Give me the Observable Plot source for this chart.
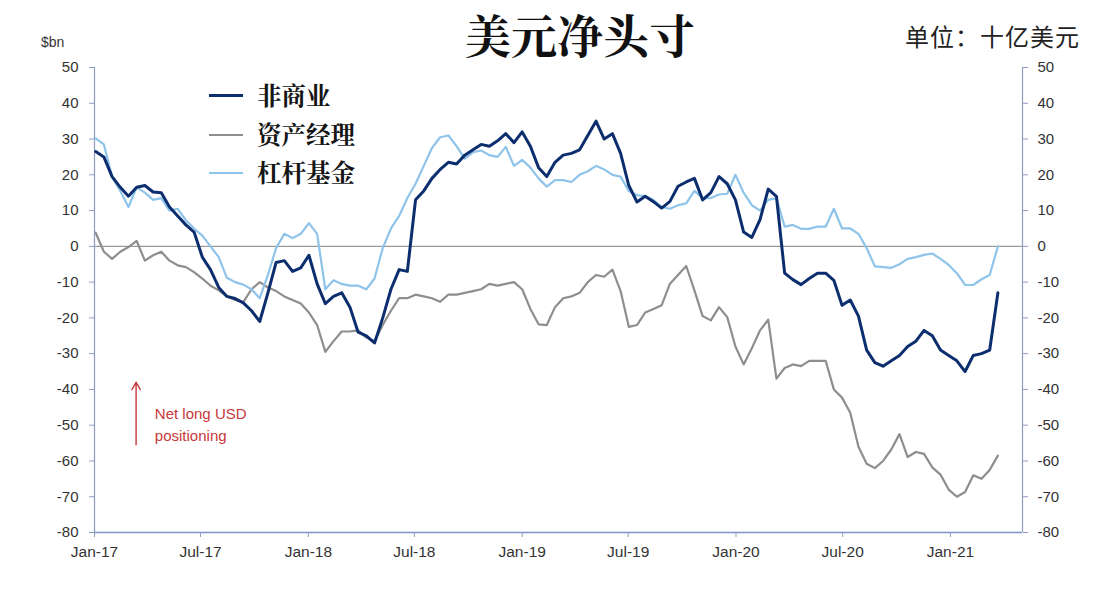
<!DOCTYPE html>
<html>
<head>
<meta charset="utf-8">
<script src="https://cdn.jsdelivr.net/npm/d3@7"></script>
<script src="https://cdn.jsdelivr.net/npm/@observablehq/plot@0.6"></script>
<style>
  body { margin: 0; background: #ffffff; }
  #wrap { position: relative; width: 1108px; height: 592px; overflow: hidden; font-family: "Liberation Sans", Arial, sans-serif; }
  .abs { position: absolute; line-height: normal; white-space: nowrap; }
  .leg-line { position: absolute; height: 0; }
</style>
</head>
<body>
<div id="wrap">
  <div class="abs" style="left:465px;top:0px;font-size:46px;font-weight:bold;color:#111;font-family:'Noto Serif CJK SC','Noto Sans CJK SC',serif;">美元净头寸</div>
  <div class="abs" style="left:905px;top:18px;font-size:24px;letter-spacing:1px;color:#222;font-family:'Noto Sans CJK SC',sans-serif;">单位：十亿美元</div>
  <div class="abs" style="left:41px;top:34px;font-size:14px;color:#333;">$bn</div>
</div>
<script>
// ---------- data (biweekly) ----------
const dates = [
  "2017-01-03","2017-01-17","2017-01-31","2017-02-14","2017-02-28","2017-03-14","2017-03-28","2017-04-11","2017-04-25","2017-05-09",
  "2017-05-23","2017-06-06","2017-06-20","2017-07-04","2017-07-18","2017-08-01","2017-08-15","2017-08-29","2017-09-12","2017-09-26",
  "2017-10-10","2017-10-24","2017-11-07","2017-11-21","2017-12-05","2017-12-19","2018-01-02","2018-01-16","2018-01-30","2018-02-13",
  "2018-02-27","2018-03-13","2018-03-27","2018-04-10","2018-04-24","2018-05-08","2018-05-22","2018-06-05","2018-06-19","2018-07-03",
  "2018-07-17","2018-07-31","2018-08-14","2018-08-28","2018-09-11","2018-09-25","2018-10-09","2018-10-23","2018-11-06","2018-11-20",
  "2018-12-04","2018-12-18","2019-01-01","2019-01-15","2019-01-29","2019-02-12","2019-02-26","2019-03-12","2019-03-26","2019-04-09",
  "2019-04-23","2019-05-07","2019-05-21","2019-06-04","2019-06-18","2019-07-02","2019-07-16","2019-07-30","2019-08-13","2019-08-27",
  "2019-09-10","2019-09-24","2019-10-08","2019-10-22","2019-11-05","2019-11-19","2019-12-03","2019-12-17","2019-12-31","2020-01-14",
  "2020-01-28","2020-02-11","2020-02-25","2020-03-10","2020-03-24","2020-04-07","2020-04-21","2020-05-05","2020-05-19","2020-06-02",
  "2020-06-16","2020-06-30","2020-07-14","2020-07-28","2020-08-11","2020-08-25","2020-09-08","2020-09-22","2020-10-06","2020-10-20",
  "2020-11-03","2020-11-17","2020-12-01","2020-12-15","2020-12-29","2021-01-12","2021-01-26","2021-02-09","2021-02-23","2021-03-09",
  "2021-03-23"
];

// 非商业 (non-commercial)
const nonCommercial = [
  26.5, 25, 19.5, 16.5, 14, 16.5, 17, 15.2, 15, 11,
  8.5, 6, 4, -3, -6.5, -11.5, -14, -14.6, -15.8, -18,
  -21, -13, -4.5, -4, -7, -6, -2.5, -10.5, -16, -14,
  -13, -17, -24, -25, -27, -20, -12, -6.5, -7, 13,
  15.5, 19, 21.5, 23.5, 23, 25.5, 27, 28.5, 28, 29.5,
  31.5, 29, 32, 28, 22, 19.5, 23.5, 25.5, 26, 27,
  31, 35, 30, 31.5, 26, 17, 12.4, 14, 12.5, 10.7,
  12.5, 16.8, 18, 19, 13, 15, 19.5, 17.5, 13, 4,
  2.5, 7.5, 16, 14, -7.5, -9.3, -10.7, -9, -7.5, -7.5,
  -9.5, -16.5, -15, -19.5, -29, -32.5, -33.5, -32, -30.5, -28,
  -26.5, -23.5, -25, -29, -30.5, -32, -35, -30.5, -30, -29,
  -13
];

// 资产经理 (asset managers)
const assetManagers = [
  3.8, -1.5, -3.5, -1.5, -0.2, 1.5, -4, -2.5, -1.5, -4,
  -5.3, -5.8, -7.2, -9, -11, -12.3, -14, -15, -15.6, -12,
  -10, -11.5, -12.5, -14, -15, -16, -18.5, -22, -29.5, -26.5,
  -23.8, -23.8, -23.5, -25.5, -26.5, -22, -18, -14.5, -14.5, -13.5,
  -14, -14.5, -15.5, -13.5, -13.5, -13, -12.5, -12, -10.5, -11,
  -10.5, -10, -12, -17.5, -21.8, -22, -17, -14.5, -14, -13,
  -10, -8, -8.5, -6.5, -12.5, -22.5, -22, -18.5, -17.5, -16.5,
  -10.5, -8, -5.5, -12.3, -19.5, -20.7, -17, -19.8, -28, -33,
  -28.5, -23.5, -20.5, -37, -34, -33, -33.5, -32, -32, -32,
  -40, -42.3, -46.5, -56, -60.8, -62, -60, -56.8, -52.5, -58.9,
  -57.5, -58, -61.8, -63.8, -68, -70, -68.7, -64, -65, -62.5,
  -58.5
];

// 杠杆基金 (leveraged funds)
const leveragedFunds = [
  30.2, 28.5, 19.5, 15.5, 11, 16.5, 15, 13, 13.5, 10,
  10.5, 7.3, 5, 3, 0, -3, -8.8, -10, -10.7, -12,
  -14.5, -8, -0.5, 3.5, 2.3, 3.5, 6.5, 3.5, -12, -9.5,
  -10.5, -11, -11, -12, -9, -0.5, 5, 8.5, 13.5, 17.5,
  22.5, 27.5, 30.5, 31, 28, 24.5, 26.3, 26.8, 25.5, 25,
  27.8, 22.5, 24.2, 22, 19, 16.7, 18.5, 18.5, 18, 20,
  21, 22.5, 21.5, 20, 19.5, 15.5, 14.3, 14, 13, 11,
  10.5, 11.5, 12, 15.5, 13.5, 13.5, 14.5, 14.7, 20, 15,
  11.5, 10, 13, 13.5, 5.5, 6, 4.9, 4.9, 5.5, 5.5,
  10.5, 5, 5, 3.5, -0.5, -5.6, -5.8, -6, -5, -3.5,
  -3, -2.4, -2, -3.5, -5.2, -7.5, -10.8, -10.8, -9.2, -8,
  0
];

const seriesNames = ["非商业", "资产经理", "杠杆基金"];
const seriesColors = ["#0c2e6e", "#8e8e8e", "#8fc4ea"];
const yTicks = [50, 40, 30, 20, 10, 0, -10, -20, -30, -40, -50, -60, -70, -80];
const xTickLabels = ["2017-01-01","2017-07-01","2018-01-01","2018-07-01","2019-01-01","2019-07-01","2020-01-01","2020-07-01","2021-01-01"];
const xDomain = ["2017-01-01", "2021-05-04"];
const yDomain = [-80, 50];
const annotation = { x1: "2017-03-13", y1: -55.5, x2: "2017-03-13", y2: -38, tx: "2017-04-14", ty: -44, text: "Net long USD\npositioning" };

// ---------- build ----------
const parse = d3.utcParse("%Y-%m-%d");
const dts = dates.map(parse);
const rows = (vals) => vals.map((v, i) => ({ date: dts[i], value: v }));
const ncRows = rows(nonCommercial);
const amRows = rows(assetManagers);
const lfRows = rows(leveragedFunds);
const xd = xDomain.map(parse);
const xt = xTickLabels.map(parse);

const axisColor = "#8d9dc2";

const chart = Plot.plot({
  width: 1108,
  height: 592,
  marginLeft: 94,
  marginRight: 86,
  marginTop: 67,
  marginBottom: 60,
  style: { fontFamily: "'Liberation Sans', Arial, sans-serif", fontSize: "15px", color: "#333", background: "transparent", overflow: "visible" },
  x: { type: "utc", domain: xd },
  y: { domain: yDomain },
  marks: [
    Plot.ruleY([0], { stroke: "#9a9a9a", strokeWidth: 1.2 }),
    Plot.ruleX([xd[0]], { stroke: axisColor, strokeWidth: 1.2 }),
    Plot.ruleX([xd[1]], { stroke: axisColor, strokeWidth: 1.2 }),
    Plot.ruleY([yDomain[0]], { stroke: "#7d92c6", strokeWidth: 1.5 }),
    Plot.axisY({ anchor: "left", ticks: yTicks, tickFormat: (d) => String(d), tickSize: 5, tickPadding: 11, stroke: axisColor, fill: "#333", fontSize: 15, label: null }),
    Plot.axisY({ anchor: "right", ticks: yTicks, tickFormat: (d) => String(d), tickSize: 5, tickPadding: 10, stroke: axisColor, fill: "#333", fontSize: 15, label: null }),
    Plot.axisX({ ticks: xt, tickFormat: d3.utcFormat("%b-%y"), tickSize: 5, tickPadding: 8, stroke: axisColor, fill: "#333", fontSize: 15.5, label: null }),
    Plot.line(amRows, { x: "date", y: "value", stroke: seriesColors[1], strokeWidth: 2.2, curve: "linear" }),
    Plot.line(lfRows, { x: "date", y: "value", stroke: seriesColors[2], strokeWidth: 2.2, curve: "linear" }),
    Plot.line(ncRows, { x: "date", y: "value", stroke: seriesColors[0], strokeWidth: 3, curve: "linear" }),
    Plot.arrow([annotation], { x1: (d) => parse(d.x1), y1: "y1", x2: (d) => parse(d.x2), y2: "y2", stroke: "#c8383a", strokeWidth: 1.4, headLength: 9 }),
    Plot.text([annotation], { x: (d) => parse(d.tx), y: "ty", text: "text", textAnchor: "start", lineAnchor: "top", lineHeight: 1.45, fill: "#c8383a", fontSize: 15 })
  ]
});

const wrap = document.getElementById("wrap");
chart.style.position = "absolute";
chart.style.left = "0px";
chart.style.top = "0px";
wrap.insertBefore(chart, wrap.firstChild);

// legend (inside the plot area, top-left)
const legendTop = [96, 135, 173];
const legendWidths = [3.4, 2.2, 2.2];
seriesNames.forEach((name, i) => {
  const ln = document.createElement("div");
  ln.className = "leg-line";
  ln.style.left = "209px";
  ln.style.width = "34px";
  ln.style.top = (legendTop[i] - legendWidths[i] / 2) + "px";
  ln.style.borderTop = legendWidths[i] + "px solid " + seriesColors[i];
  wrap.appendChild(ln);
  const tx = document.createElement("div");
  tx.className = "abs";
  tx.textContent = name;
  tx.style.left = "257px";
  tx.style.top = (legendTop[i] - 19) + "px";
  tx.style.fontSize = "24.5px";
  tx.style.fontWeight = "bold";
  tx.style.color = "#151515";
  tx.style.fontFamily = "'Noto Serif CJK SC','Noto Sans CJK SC',serif";
  wrap.appendChild(tx);
});
</script>
</body>
</html>
